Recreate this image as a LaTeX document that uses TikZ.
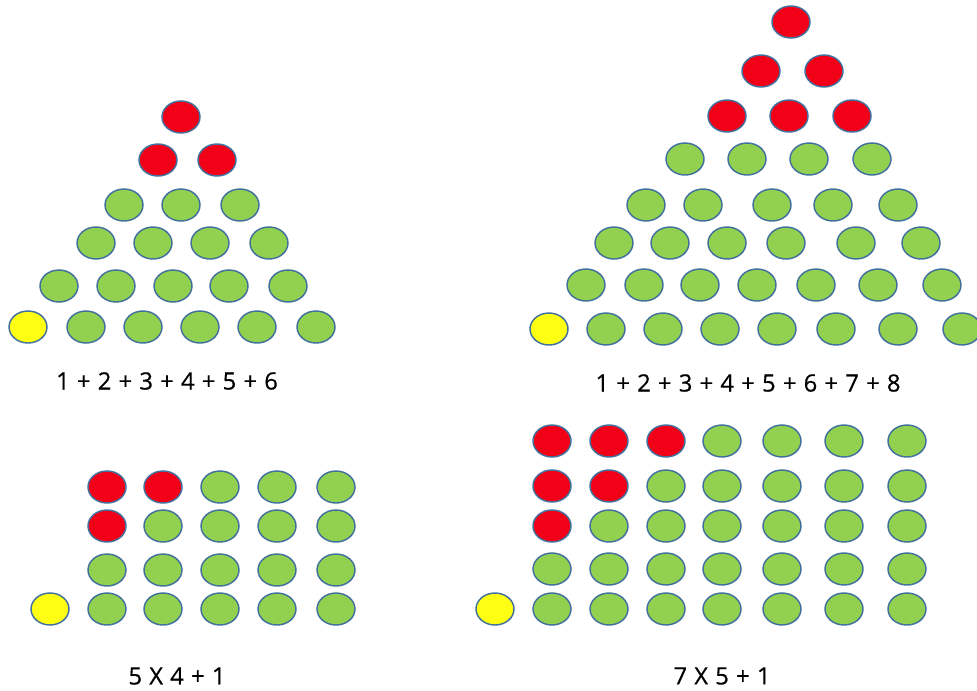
\documentclass[tikz,border=0pt]{standalone}
\usepackage{fontspec}
\setmainfont{Open Sans}
\newfontfamily\sumfamily[FakeBold=0.5]{Open Sans}
\usepackage{tikz}
\usepackage{xcolor}
\definecolor{beadline}{HTML}{41719C}
\definecolor{beadgreen}{HTML}{92D050}
\definecolor{beadred}{HTML}{F20017}
\definecolor{beadyellow}{HTML}{FFFF14}
\newcommand{\sumfont}{\sumfamily\fontsize{18}{21}\selectfont\spaceskip 0.3em\relax}
\begin{document}
\begin{tikzpicture}[x=0.0265cm, y=-0.0265cm, line cap=round, line join=round,
  bead/.style={draw=beadline, line width=1.1pt},
  sumlabel/.style={font=\sumfont, inner sep=0pt}]
\useasboundingbox (0,0) rectangle (977,690);

% left triangle: 1 + 2 + ... + 6
\filldraw[bead, fill=beadred] (181,117) ellipse [x radius=19, y radius=16];
\foreach \x in {158,217}
  \filldraw[bead, fill=beadred] (\x,160) ellipse [x radius=19, y radius=16];
\foreach \x in {124,181,240}
  \filldraw[bead, fill=beadgreen] (\x,205) ellipse [x radius=19, y radius=16];
\foreach \x in {96,153,210,269}
  \filldraw[bead, fill=beadgreen] (\x,243) ellipse [x radius=19, y radius=16];
\foreach \x in {59,116,173,229,288}
  \filldraw[bead, fill=beadgreen] (\x,286) ellipse [x radius=19, y radius=16];
\filldraw[bead, fill=beadyellow] (28,327) ellipse [x radius=19, y radius=16];
\foreach \x in {86,143,200,257,316}
  \filldraw[bead, fill=beadgreen] (\x,327) ellipse [x radius=19, y radius=16];
\node[sumlabel] (sumsix) at (167,381) {1 + 2 + 3 + 4 + 5 + 6};

% right triangle: 1 + 2 + ... + 8
\filldraw[bead, fill=beadred] (791,22) ellipse [x radius=19, y radius=16];
\foreach \x in {761,824}
  \filldraw[bead, fill=beadred] (\x,71) ellipse [x radius=19, y radius=16];
\foreach \x in {727,789,852}
  \filldraw[bead, fill=beadred] (\x,116) ellipse [x radius=19, y radius=16];
\foreach \x in {685,747,809,872}
  \filldraw[bead, fill=beadgreen] (\x,159) ellipse [x radius=19, y radius=16];
\foreach \x in {646,703,772,833,898}
  \filldraw[bead, fill=beadgreen] (\x,205) ellipse [x radius=19, y radius=16];
\foreach \x in {614,670,727,786,856,921}
  \filldraw[bead, fill=beadgreen] (\x,243) ellipse [x radius=19, y radius=16];
\foreach \x in {586,644,700,757,816,878,942}
  \filldraw[bead, fill=beadgreen] (\x,285) ellipse [x radius=19, y radius=16];
\filldraw[bead, fill=beadyellow] (549,329) ellipse [x radius=19, y radius=16];
\foreach \x in {606,663,720,777,836,898,962}
  \filldraw[bead, fill=beadgreen] (\x,329) ellipse [x radius=19, y radius=16];
\node[sumlabel] (sumeight) at (748,383) {1 + 2 + 3 + 4 + 5 + 6 + 7 + 8};

% left rectangle: 5 X 4 + 1
\foreach \x in {107,163}
  \filldraw[bead, fill=beadred] (\x,487) ellipse [x radius=19, y radius=16];
\foreach \x in {220,277,336}
  \filldraw[bead, fill=beadgreen] (\x,487) ellipse [x radius=19, y radius=16];
\filldraw[bead, fill=beadred] (107,526) ellipse [x radius=19, y radius=16];
\foreach \x in {163,220,277,336}
  \filldraw[bead, fill=beadgreen] (\x,526) ellipse [x radius=19, y radius=16];
\foreach \y in {570,609}
  \foreach \x in {107,163,220,277,336}
    \filldraw[bead, fill=beadgreen] (\x,\y) ellipse [x radius=19, y radius=16];
\filldraw[bead, fill=beadyellow] (50,609) ellipse [x radius=19, y radius=16];
\node[sumlabel] (prodfour) at (177,676) {5 X 4 + 1};

% right rectangle: 7 X 5 + 1
\foreach \x in {552,609,666}
  \filldraw[bead, fill=beadred] (\x,441) ellipse [x radius=19, y radius=16];
\foreach \x in {722,782,844,907}
  \filldraw[bead, fill=beadgreen] (\x,441) ellipse [x radius=19, y radius=16];
\foreach \x in {552,609}
  \filldraw[bead, fill=beadred] (\x,486) ellipse [x radius=19, y radius=16];
\foreach \x in {666,722,782,844,907}
  \filldraw[bead, fill=beadgreen] (\x,486) ellipse [x radius=19, y radius=16];
\filldraw[bead, fill=beadred] (552,526) ellipse [x radius=19, y radius=16];
\foreach \x in {609,666,722,782,844,907}
  \filldraw[bead, fill=beadgreen] (\x,526) ellipse [x radius=19, y radius=16];
\foreach \y in {569,609}
  \foreach \x in {552,609,666,722,782,844,907}
    \filldraw[bead, fill=beadgreen] (\x,\y) ellipse [x radius=19, y radius=16];
\filldraw[bead, fill=beadyellow] (495,609) ellipse [x radius=19, y radius=16];
\node[sumlabel] (prodfive) at (722,676) {7 X 5 + 1};
\end{tikzpicture}
\end{document}
